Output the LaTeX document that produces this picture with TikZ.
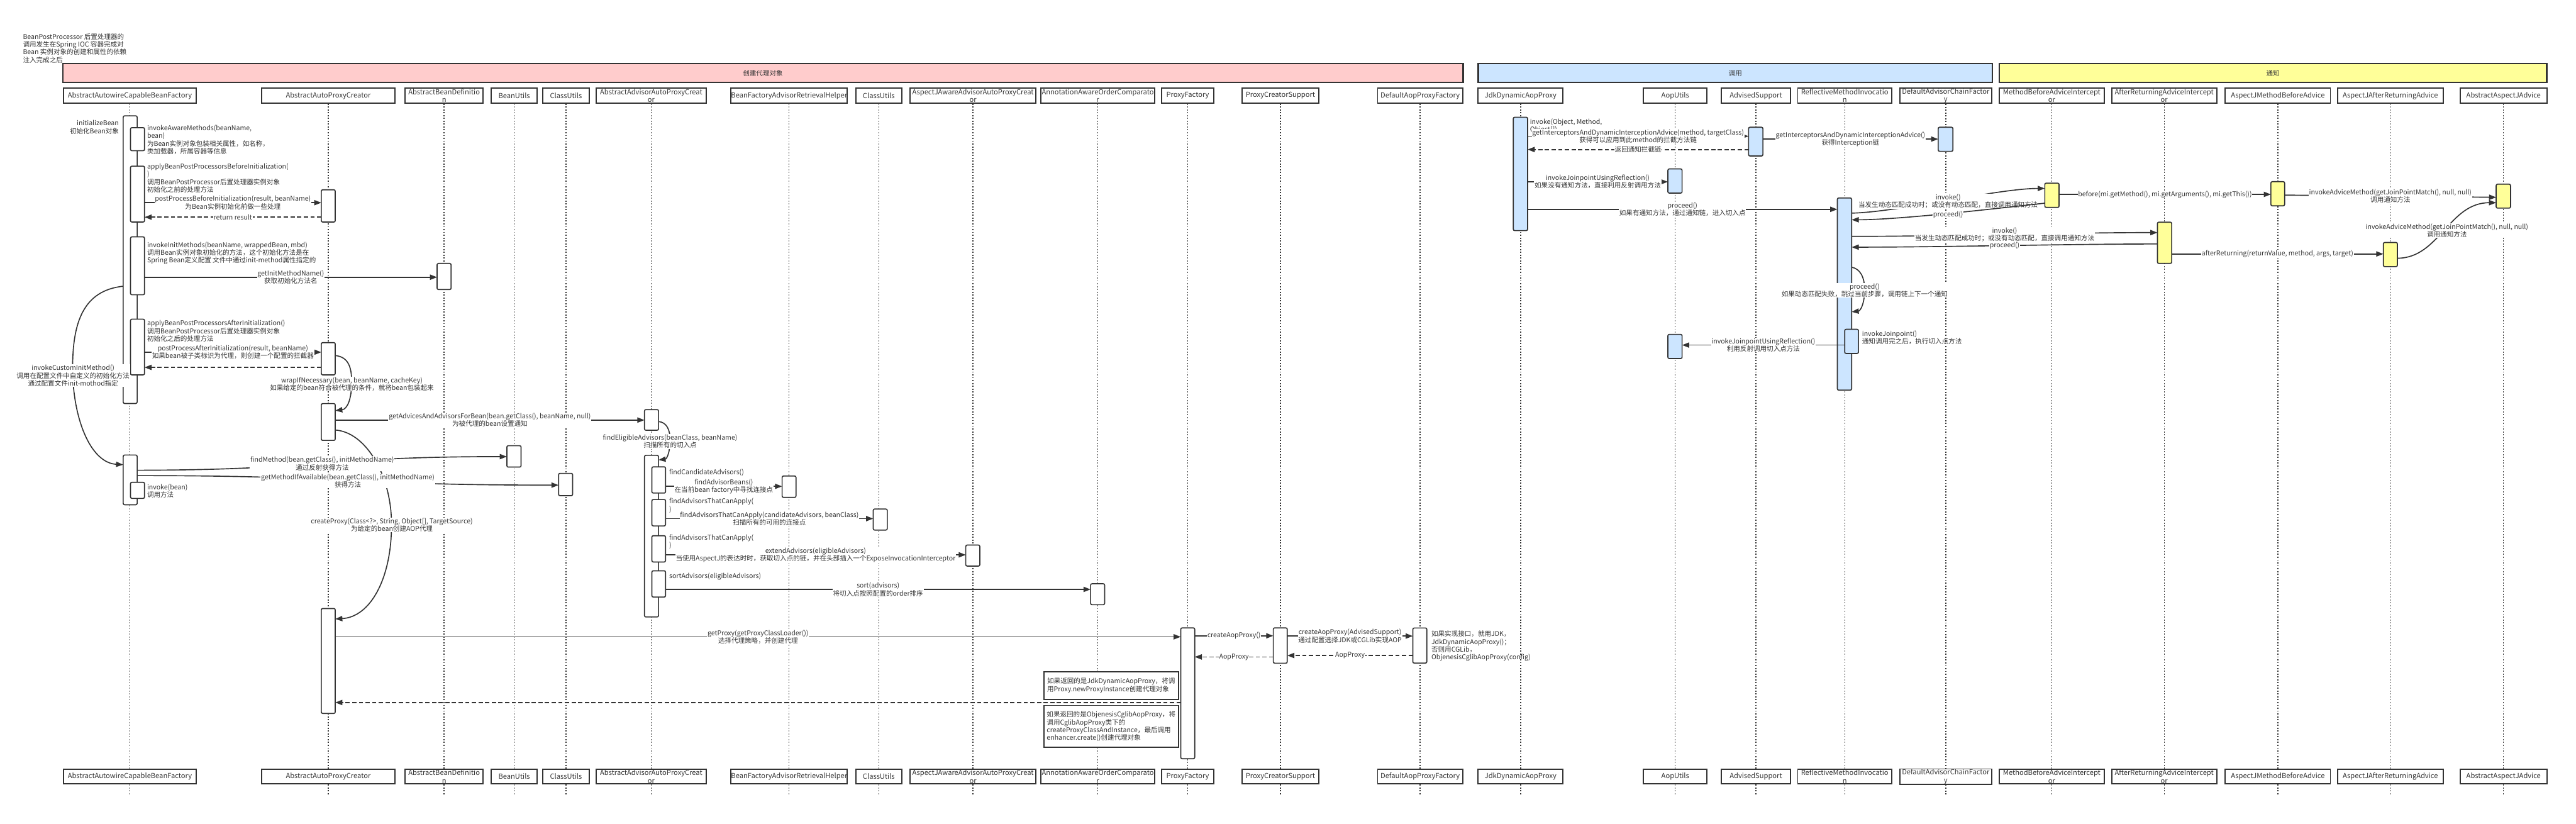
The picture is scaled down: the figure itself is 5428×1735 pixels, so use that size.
\documentclass[tikz,border=0pt]{standalone}
\usepackage{fontspec}
\setmainfont{Noto Sans CJK SC}
\usetikzlibrary{arrows.meta}
\definecolor{ln}{HTML}{333333}
\definecolor{pinkb}{HTML}{FFCCCC}
\definecolor{blueb}{HTML}{CCE5FF}
\definecolor{yelb}{HTML}{FFFF99}
\newcommand\lblfont{\fontsize{3.98pt}{4.64pt}\selectfont}
\newcommand\hdrfont{\fontsize{4.2pt}{4.72pt}\selectfont}
\tikzset{
  lbl/.style={font=\lblfont, text=ln, fill=white, inner sep=0.3pt, align=center},
  ltxt/.style={font=\lblfont, text=ln, inner sep=0pt, align=left, anchor=north west},
  hbox/.style={draw=ln, line width=0.025cm, fill=white, font=\hdrfont, text=ln, inner sep=0pt, align=center, minimum height=0.31cm},
  lifel/.style={draw=ln, line width=0.018cm, dash pattern=on 0.025cm off 0.035cm},
  actb/.style={draw=ln, line width=0.022cm, rounded corners=0.03cm, inner sep=0pt, outer sep=0pt},
  msg/.style={draw=ln, line width=0.022cm, -{Triangle[length=0.15cm,width=0.11cm]}},
  ret/.style={msg, dash pattern=on 0.09cm off 0.05cm},
  band/.style={draw=ln, line width=0.03cm, minimum height=0.4cm, font=\lblfont, text=ln, inner sep=0pt},
  notebox/.style={draw=ln, line width=0.022cm, fill=white, font=\lblfont, text=ln, align=left, inner sep=0pt}
}
\newcommand\mkline[4]{%
  \node[hbox, minimum width={(#3-#2)*0.01cm}] (#1t) at ({(#2+#3)/2},201.5) {#4};
  \node[hbox, minimum width={(#3-#2)*0.01cm}] (#1b) at ({(#2+#3)/2},1636) {#4};
  \draw[lifel] (#1t.south) -- (#1b.north);
  \draw[lifel] (#1b.south) -- ++(0,23);
}
\newcommand\mkbar[6]{%
  \node[actb, fill=#6, minimum width={(#4-#2)*0.01cm}, minimum height={(#5-#3)*0.01cm}] (#1) at ({(#2+#4)/2},{(#3+#5)/2}) {};
}
\begin{document}
\begin{tikzpicture}[x=0.01cm,y=-0.01cm]
\useasboundingbox (0,0) rectangle (5428,1735);
\fill[white] (0,0) rectangle (5428,1735);

% bands
\node[band, fill=pinkb, minimum width=29.49cm] (bandc) at (1607.5,154) {创建代理对象};
\node[band, fill=blueb, minimum width=10.83cm] (bandi) at (3656.5,154) {调用};
\node[band, fill=yelb, minimum width=11.53cm] (bandn) at (4789.5,154) {通知};

% lifelines
\mkline{l1}{133.3}{413.9}{AbstractAutowireCapableBeanFactory}
\mkline{l2}{551.4}{832}{AbstractAutoProxyCreator}
\mkline{l3}{853.7}{1017.9}{AbstractBeanDefinitio\\n}
\mkline{l4}{1035}{1132}{BeanUtils}
\mkline{l5}{1143.5}{1241.7}{ClassUtils}
\mkline{l6}{1255.7}{1488.6}{AbstractAdvisorAutoProxyCreat\\or}
\mkline{l7}{1541}{1784.7}{BeanFactoryAdvisorRetrievalHelper}
\mkline{l8}{1803}{1900.4}{ClassUtils}
\mkline{l9}{1918}{2182.4}{AspectJAwareAdvisorAutoProxyCreat\\or}
\mkline{l10}{2193}{2433.4}{AnnotationAwareOrderComparato\\r}
\mkline{l11}{2447.4}{2557.8}{ProxyFactory}
\mkline{l12}{2617.7}{2778.4}{ProxyCreatorSupport}
\mkline{l13}{2902.8}{3082}{DefaultAopProxyFactory}
\mkline{l14}{3114.7}{3293.6}{JdkDynamicAopProxy}
\mkline{l15}{3463}{3597}{AopUtils}
\mkline{l16}{3626.6}{3773.3}{AdvisedSupport}
\mkline{l17}{3788}{3986}{ReflectiveMethodInvocatio\\n}
\mkline{l18}{4002.8}{4197}{DefaultAdvisorChainFactor\\y}
\mkline{l19}{4212.6}{4434}{MethodBeforeAdviceIntercept\\or}
\mkline{l20}{4449.8}{4670.7}{AfterReturningAdviceIntercept\\or}
\mkline{l21}{4688.8}{4910.4}{AspectJMethodBeforeAdvice}
\mkline{l22}{4925.4}{5148}{AspectJAfterReturningAdvice}
\mkline{l23}{5184}{5366.5}{AbstractAspectJAdvice}

% free texts
\node[ltxt] (title) at (47.7,69.8) {BeanPostProcessor 后置处理器的\\调用发生在Spring IOC 容器完成对\\Bean 实例对象的创建和属性的依赖\\注入完成之后};
\node[ltxt, anchor=north east, align=right] (t1) at (251,252.9) {initializeBean\\初始化Bean对象};
\node[ltxt] (t2) at (309.4,262.8) {invokeAwareMethods(beanName,\\bean)\\为Bean实例对象包装相关属性，如名称，\\类加载器，所属容器等信息};
\node[ltxt] (t3) at (309.4,343.8) {applyBeanPostProcessorsBeforeInitialization(\\)\\调用BeanPostProcessor后置处理器实例对象\\初始化之前的处理方法};
\node[ltxt] (t4) at (309.4,509.1) {invokeInitMethods(beanName, wrappedBean, mbd)\\调用Bean实例对象初始化的方法，这个初始化方法是在\\Spring Bean定义配置 文件中通过init-method属性指定的};
\node[ltxt] (t5) at (309.4,674.2) {applyBeanPostProcessorsAfterInitialization()\\调用BeanPostProcessor后置处理器实例对象\\初始化之后的处理方法};
\node[ltxt] (t6) at (309.4,1019) {invoke(bean)\\调用方法};
\node[ltxt] (t7) at (1409.4,988) {findCandidateAdvisors()};
\node[ltxt] (t8) at (1409.4,1049.3) {findAdvisorsThatCanApply(\\)};
\node[ltxt] (t9) at (1409.4,1125.2) {findAdvisorsThatCanApply(\\)};
\node[ltxt] (t10) at (1409.4,1206.7) {sortAdvisors(eligibleAdvisors)};
\node[ltxt] (t11) at (3015.5,1328.3) {如果实现接口，就用JDK，\\JdkDynamicAopProxy()；\\否则用CGLib，\\ObjenesisCglibAopProxy(config)};
\node[ltxt] (t14) at (3223.2,249.4) {invoke(Object, Method,\\Object[])};
\node[ltxt] (t15) at (3923,695.8) {invokeJoinpoint()\\通知调用完之后，执行切入点方法};

% activation bars
\mkbar{A1}{259.6}{244}{289}{850}{white}
\mkbar{N1}{275}{268.9}{304.5}{317.5}{white}
\mkbar{N2}{275}{350}{304.5}{467.8}{white}
\mkbar{N3}{275}{499}{304.5}{621}{white}
\mkbar{N4}{275}{672.4}{304.5}{789.8}{white}
\mkbar{A2}{259.6}{958.6}{289}{1063.4}{white}
\mkbar{N5}{275}{1016}{304.5}{1050}{white}
\mkbar{B1}{677}{399.8}{706.4}{467.8}{white}
\mkbar{B2}{677}{721.8}{706.4}{789.8}{white}
\mkbar{B3}{677}{850.3}{706.4}{927.8}{white}
\mkbar{B4}{677}{1282}{706.4}{1503}{white}
\mkbar{C1}{921}{555}{950.5}{610}{white}
\mkbar{D1}{1068}{939}{1098}{984}{white}
\mkbar{CU1}{1177}{997.3}{1206.6}{1044.3}{white}
\mkbar{E1}{1358}{862.9}{1387.6}{906.4}{white}
\mkbar{E2}{1358}{959.3}{1387.6}{1299.8}{white}
\mkbar{F1}{1373.6}{983.5}{1402.4}{1038.8}{white}
\mkbar{F2}{1373.6}{1052.3}{1402.4}{1108}{white}
\mkbar{F3}{1373.6}{1128.6}{1402.4}{1184}{white}
\mkbar{F4}{1373.6}{1202.5}{1402.4}{1257.9}{white}
\mkbar{BF1}{1648}{1002.8}{1677.3}{1047.9}{white}
\mkbar{CU2}{1840}{1072.4}{1869.6}{1116.7}{white}
\mkbar{AJ1}{2035}{1148.3}{2064.6}{1192.6}{white}
\mkbar{AO1}{2298}{1229.8}{2327.6}{1274}{white}
\mkbar{PF1}{2488}{1322.8}{2517.4}{1598.5}{white}
\mkbar{PCS1}{2683}{1322.8}{2712.4}{1397.2}{white}
\mkbar{DAPF1}{2977}{1323}{3006.5}{1397}{white}
\mkbar{JDK1}{3188.7}{247}{3218.8}{485.8}{blueb}
\mkbar{AS1}{3684.5}{268}{3714.6}{328.7}{blueb}
\mkbar{DACF1}{4084}{268}{4115}{318.8}{blueb}
\mkbar{AU1}{3514.4}{355.9}{3544.4}{406.8}{blueb}
\mkbar{AU2}{3514.4}{704.5}{3544.4}{755.4}{blueb}
\mkbar{RMI1}{3871.5}{417}{3901.6}{822}{blueb}
\mkbar{RMI2}{3887}{693.8}{3916}{744.7}{blueb}
\mkbar{MBAI1}{4308.6}{385.8}{4338.7}{437}{yelb}
\mkbar{ARAI1}{4546}{468}{4576}{555}{yelb}
\mkbar{AJMBA1}{4785}{382.7}{4814}{433.6}{yelb}
\mkbar{AJARA1}{5022}{510.8}{5051.6}{561.7}{yelb}
\mkbar{AAJA1}{5259.7}{388}{5290}{438.5}{yelb}

% notes
\node[notebox, minimum width=2.834cm, minimum height=0.586cm] (nb1) at (2341.3,1444.3) {如果返回的是JdkDynamicAopProxy，将调\\用Proxy.newProxyInstance创建代理对象};
\node[notebox, minimum width=2.834cm, minimum height=0.886cm] (nb2) at (2341.3,1530.3) {如果返回的是ObjenesisCglibAopProxy，将\\调用CglibAopProxy类下的\\createProxyClassAndInstance，最后调用\\enhancer.create()创建代理对象};

% messages: left part
\draw[msg] (N2.east |- 0,427) -- (B1.west |- 0,427) node[lbl,midway] (m1) {postProcessBeforeInitialization(result, beanName)\\为Bean实例初始化前做一些处理};
\draw[ret] (B1.west |- 0,457.5) -- (N2.east |- 0,457.5) node[lbl,midway] (m2) {return result};
\draw[msg] (N3.east |- 0,584) -- (C1.west |- 0,584) node[lbl,midway] (m3) {getInitMethodName()\\获取初始化方法名};
\draw[msg] (A1.west |- 0,603) .. controls (175,612) and (153,680) .. (153,775) .. controls (153,880) and (190,975) .. (A2.west |- 0,979);
\node[lbl] (m4) at (154,791.5) {invokeCustomInitMethod()\\调用在配置文件中自定义的初始化方法\\通过配置文件init-mothod指定};
\draw[msg] (N4.east |- 0,742) -- (B2.west |- 0,742) node[lbl,midway] (m5) {postProcessAfterInitialization(result, beanName)\\如果bean被子类标识为代理，则创建一个配置的拦截器};
\draw[ret] (B2.west |- 0,774) -- (N4.east |- 0,774);
\draw[msg] (B2.east |- 0,749) .. controls (735,752) and (741,775) .. (741,805) .. controls (741,840) and (732,862) .. (B3.east |- 0,865);
\node[lbl] (m7) at (741.5,809) {wrapIfNecessary(bean, beanName, cacheKey)\\如果给定的bean符合被代理的条件，就将bean包装起来};
\draw[msg] (B3.east |- 0,885) -- (E1.west |- 0,885) node[lbl,midway] (m8) {getAdvicesAndAdvisorsForBean(bean.getClass(), beanName, null)\\为被代理的bean设置通知};
\draw[msg] (B3.east |- 0,906) .. controls (770,910) and (825,1000) .. (825,1105) .. controls (825,1220) and (780,1300) .. (B4.east |- 0,1304);
\node[lbl] (m9) at (825.7,1105.7) {createProxy(Class<?>, String, Object[], TargetSource)\\为给定的bean创建AOP代理};
\draw[msg] (A2.east |- 0,990.7) .. controls (680,990) and (680,962) .. (D1.west |- 0,962);
\node[lbl] (m10) at (679,976.6) {findMethod(bean.getClass(), initMethodName)\\通过反射获得方法};
\draw[msg] (A2.east |- 0,1002) .. controls (733,1002) and (733,1022) .. (CU1.west |- 0,1022);
\node[lbl] (m11) at (733,1012.8) {getMethodIfAvailable(bean.getClass(), initMethodName)\\获得方法};
\draw[msg] (E1.east |- 0,888) .. controls (1405,890) and (1412,905) .. (1412,928) .. controls (1412,952) and (1405,967) .. (E2.east |- 0,969);
\node[lbl] (m12) at (1412,930) {findEligibleAdvisors(beanClass, beanName)\\扫描所有的切入点};
\draw[msg] (F1.east |- 0,1024.6) -- (BF1.west |- 0,1024.6) node[lbl,midway] (m13) {findAdvisorBeans()\\在当前bean factory中寻找连接点};
\draw[msg] (F2.east |- 0,1092.6) -- (CU2.west |- 0,1092.6) node[lbl,midway] (m14) {findAdvisorsThatCanApply(candidateAdvisors, beanClass)\\扫描所有的可用的连接点};
\draw[msg] (F3.east |- 0,1168.9) -- (AJ1.west |- 0,1168.9) node[lbl,midway] (m15) {extendAdvisors(eligibleAdvisors)\\当使用AspectJ的表达时时，获取切入点的链，并在头部插入一个ExposeInvocationInterceptor};
\draw[msg] (F4.east |- 0,1241.7) -- (AO1.west |- 0,1241.7) node[lbl,midway] (m16) {sort(advisors)\\将切入点按照配置的order排序};
\draw[msg] (B4.east |- 0,1341.6) -- (PF1.west |- 0,1341.6) node[lbl,midway] (m17) {getProxy(getProxyClassLoader())\\选择代理策略，并创建代理};
\draw[msg] (PF1.east |- 0,1339.5) -- (PCS1.west |- 0,1339.5) node[lbl,midway] (m18) {createAopProxy()};
\draw[msg] (PCS1.east |- 0,1340) -- (DAPF1.west |- 0,1340) node[lbl,midway] (m19) {createAopProxy(AdvisedSupport)\\通过配置选择JDK或CGLib实现AOP};
\draw[ret] (DAPF1.west |- 0,1381) -- (PCS1.east |- 0,1381) node[lbl,midway] (m20) {AopProxy};
\draw[ret] (PCS1.west |- 0,1384) -- (PF1.east |- 0,1384) node[lbl,midway] (m21) {AopProxy};
\draw[ret] (PF1.west |- 0,1480) -- (B4.east |- 0,1480);

% messages: right part
\draw[msg] (JDK1.east |- 0,287) -- (AS1.west |- 0,287) node[lbl,midway] (r1) {getInterceptorsAndDynamicInterceptionAdvice(method, targetClass)\\获得可以应用到此method的拦截方法链};
\draw[ret] (AS1.west |- 0,315) -- (JDK1.east |- 0,315) node[lbl,midway] (r2) {返回通知拦截链};
\draw[msg] (AS1.east |- 0,293) -- (DACF1.west |- 0,293) node[lbl,midway] (r3) {getInterceptorsAndDynamicInterceptionAdvice()\\获得Interception链};
\draw[msg] (JDK1.east |- 0,383) -- (AU1.west |- 0,383) node[lbl,midway] (r4) {invokeJoinpointUsingReflection()\\如果没有通知方法，直接利用反射调用方法};
\draw[msg] (JDK1.east |- 0,441) -- (RMI1.west |- 0,441) node[lbl,midway] (r5) {proceed()\\如果有通知方法，通过通知链，进入切入点};
\draw[msg] (RMI1.east |- 0,449) .. controls (4000,447) and (4210,397) .. (MBAI1.west |- 0,397);
\node[lbl] (r6) at (4105,424) {invoke()\\当发生动态匹配成功时；或没有动态匹配，直接调用通知方法};
\draw[msg] (MBAI1.west |- 0,428) .. controls (4200,440) and (4000,463) .. (RMI1.east |- 0,463);
\node[lbl] (r7) at (4105,452) {proceed()};
\draw[msg] (RMI1.east |- 0,498) .. controls (4100,498) and (4350,490) .. (ARAI1.west |- 0,490);
\node[lbl] (r8) at (4224,494) {invoke()\\当发生动态匹配成功时；或没有动态匹配，直接调用通知方法};
\draw[msg] (ARAI1.west |- 0,514) .. controls (4350,514) and (4100,520.7) .. (RMI1.east |- 0,520.7);
\node[lbl] (r9) at (4224,517.7) {proceed()};
\draw[msg] (RMI1.east |- 0,563) .. controls (3920,566) and (3929,585) .. (3929,610) .. controls (3929,640) and (3920,655) .. (RMI1.east |- 0,657);
\node[lbl] (r10) at (3929,611.7) {proceed()\\如果动态匹配失败，跳过当前步骤，调用链上下一个通知};
\draw[msg] (RMI2.west |- 0,727) -- (AU2.east |- 0,727) node[lbl,midway] (r11) {invokeJoinpointUsingReflection()\\利用反射调用切入点方法};
\draw[msg] (MBAI1.east |- 0,409.5) -- (AJMBA1.west |- 0,409.5) node[lbl,midway] (r12) {before(mi.getMethod(), mi.getArguments(), mi.getThis())};
\draw[msg] (AJMBA1.east |- 0,411) -- (AAJA1.west |- 0,415.7) node[lbl,midway] (r13) {invokeAdviceMethod(getJoinPointMatch(), null, null)\\调用通知方法};
\draw[msg] (ARAI1.east |- 0,535) -- (AJARA1.west |- 0,535) node[lbl,midway] (r14) {afterReturning(returnValue, method, args, target)};
\draw[msg] (AJARA1.east |- 0,544) .. controls (5140,544) and (5160,427) .. (AAJA1.west |- 0,427);
\node[lbl] (r15) at (5156,485.5) {invokeAdviceMethod(getJoinPointMatch(), null, null)\\调用通知方法};
\end{tikzpicture}
\end{document}
